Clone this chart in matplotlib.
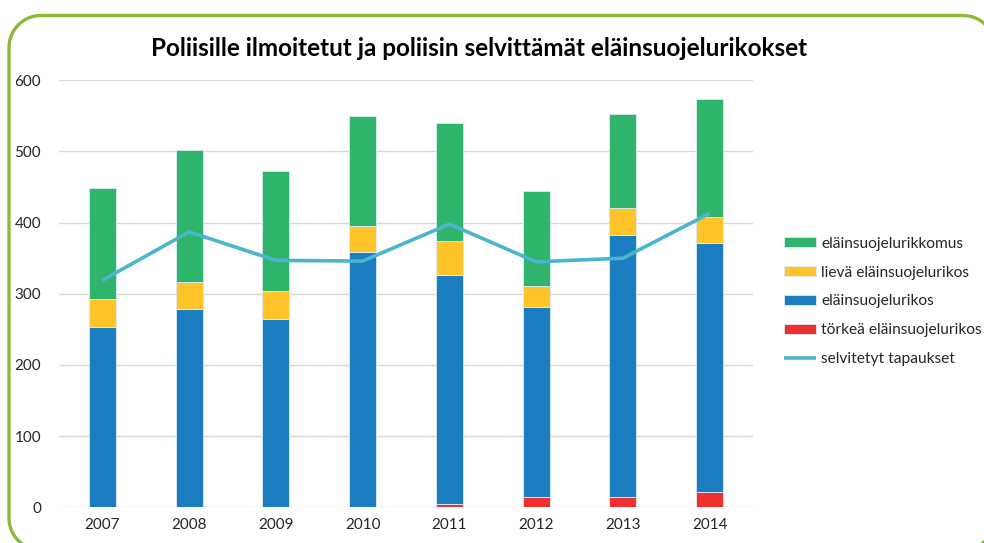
import matplotlib
matplotlib.use("Agg")
import matplotlib.pyplot as plt
from matplotlib.patches import PathPatch
from matplotlib.path import Path
import numpy as np

plt.rcParams['font.family'] = ['Lato', 'DejaVu Sans']

years = ["2007", "2008", "2009", "2010", "2011", "2012", "2013", "2014"]
torkea = [0, 0, 0, 0, 5, 14, 14, 22]
rikos = [254, 278, 265, 359, 321, 267, 369, 350]
lieva = [38, 39, 39, 36, 48, 30, 37, 36]
rikkomus = [156, 185, 169, 155, 166, 134, 133, 166]
selvitetyt = [319, 387, 347, 346, 398, 345, 350, 413]

title = "Poliisille ilmoitetut ja poliisin selvittämät eläinsuojelurikokset"
labels = ["eläinsuojelurikkomus", "lievä eläinsuojelurikos", "eläinsuojelurikos",
          "törkeä eläinsuojelurikos", "selvitetyt tapaukset"]
c_green = "#2FB46B"
c_yellow = "#FEC42A"
c_blue = "#1A7EC1"
c_red = "#EE302E"
c_line = "#4BB5CE"

fig = plt.figure(figsize=(9.84, 5.43), dpi=100)
W, H = 984, 543

# background axes in pixel units (y up) for the rounded green frame
bg = fig.add_axes([0, 0, 1, 1])
bg.set_xlim(0, W)
bg.set_ylim(0, H)
bg.axis("off")
x0, x1 = 9.0, 995.0
ytop, ybot = H - 15.5, H - 550.0
r = 32.0
pts = []
def arc(cx, cy, a0, a1):
    t = np.linspace(np.radians(a0), np.radians(a1), 30)
    return list(zip(cx + r * np.cos(t), cy + r * np.sin(t)))
pts += arc(x1 - r, ytop - r, 90, 0)
pts += arc(x1 - r, ybot + r, 0, -90)
pts += arc(x0 + r, ybot + r, 270, 180)
pts += arc(x0 + r, ytop - r, 180, 90)
pts.append(pts[0])
bg.add_patch(PathPatch(Path(pts), fill=False, edgecolor="#8CBA35",
                       linewidth=2.4, clip_on=False))

ax = fig.add_axes([59 / W, 1 - 507.3 / H, (753 - 59) / W, (507.3 - 80.3) / H])
x = np.arange(len(years))
w = 0.31
b0 = np.zeros(len(years))
series = [(torkea, c_red, labels[3]), (rikos, c_blue, labels[2]),
          (lieva, c_yellow, labels[1]), (rikkomus, c_green, labels[0])]
handles = {}
for vals, col, lab in series:
    h = ax.bar(x, vals, w, bottom=b0, color=col, edgecolor="#DDEBF5",
               linewidth=0.6, label=lab, zorder=2)
    handles[lab] = h
    b0 = b0 + np.array(vals)
ln, = ax.plot(x, selvitetyt, color=c_line, linewidth=2.6, zorder=3,
              label=labels[4], solid_capstyle="butt")
handles[labels[4]] = ln

ax.set_xlim(-0.5, len(years) - 0.5)
ax.set_ylim(0, 600)
ax.set_yticks(range(0, 601, 100))
ax.set_xticks(x)
ax.set_xticklabels(years)
ax.tick_params(length=0, labelsize=11, colors="#262626", pad=8)
ax.tick_params(axis="y", pad=13)
ax.grid(axis="y", color="#D9D9D9", linewidth=1.0, zorder=0)
ax.set_axisbelow(True)
for s in ax.spines.values():
    s.set_visible(False)

fig.text(479 / W, 1 - 48 / H, title, ha="center", va="center",
         fontsize=17.5, fontweight="bold", color="#000000")

leg = fig.legend([handles[l] for l in labels], labels,
                 loc="upper left", bbox_to_anchor=(776 / W, 1 - 229 / H),
                 frameon=False, fontsize=11.2, handlelength=2.1,
                 handleheight=0.6, handletextpad=0.3, labelspacing=0.95,
                 borderpad=0)
for t in leg.get_texts():
    t.set_color("#262626")

fig.savefig("out.png", dpi=100)
